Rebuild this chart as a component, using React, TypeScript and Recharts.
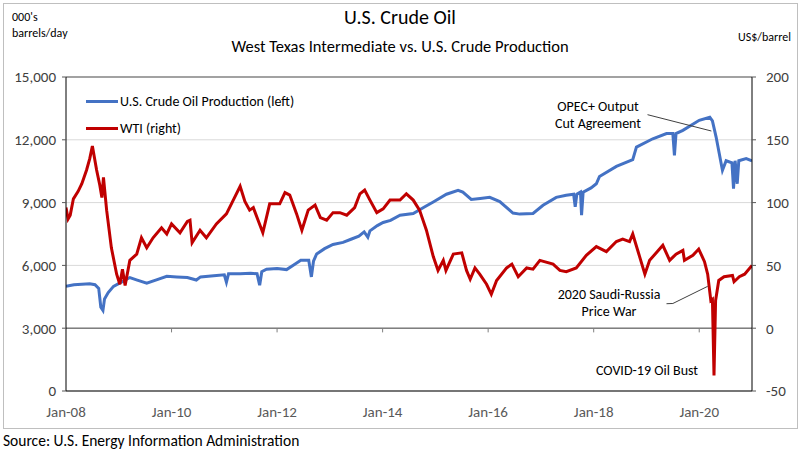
import React from 'react';
import {
  LineChart,
  Line,
  XAxis,
  YAxis,
  CartesianGrid,
  ReferenceLine,
} from 'recharts';

const FONT = "Carlito, Calibri, 'Liberation Sans Narrow', Roboto, sans-serif";

// x = fractional year, left axis = 000's barrels/day
const prodDates = [
  2008.0, 2008.15, 2008.3, 2008.45, 2008.55, 2008.62, 2008.66, 2008.7, 2008.73, 2008.8, 2008.9,
  2009.05, 2009.21, 2009.35, 2009.53, 2009.7, 2009.91, 2010.1, 2010.3, 2010.47, 2010.55, 2010.8,
  2011.0, 2011.04, 2011.08, 2011.3, 2011.5, 2011.62, 2011.67, 2011.71, 2011.8, 2012.0, 2012.18,
  2012.3, 2012.45, 2012.6, 2012.65, 2012.69, 2012.75, 2012.9, 2013.06, 2013.25, 2013.4, 2013.55,
  2013.65, 2013.72, 2013.76, 2013.9, 2014.01, 2014.15, 2014.33, 2014.58, 2014.8, 2014.96, 2015.21,
  2015.43, 2015.52, 2015.68, 2015.85, 2016.03, 2016.22, 2016.47, 2016.6, 2016.85, 2017.04, 2017.29,
  2017.48, 2017.62, 2017.65, 2017.68, 2017.75, 2017.77, 2017.8, 2017.95, 2018.05, 2018.11, 2018.43,
  2018.74, 2018.81, 2019.12, 2019.38, 2019.5, 2019.53, 2019.56, 2019.69, 2020.0, 2020.2, 2020.25,
  2020.32, 2020.44, 2020.51, 2020.62, 2020.65, 2020.68, 2020.72, 2020.75, 2020.89, 2021.0,
];
const prodValues = [
  5000, 5080, 5100, 5120, 5080, 4900, 4000, 3850, 4400, 4700, 5000,
  5200, 5420, 5300, 5150, 5300, 5480, 5450, 5420, 5300, 5450, 5500,
  5550, 5200, 5600, 5600, 5620, 5600, 5050, 5700, 5820, 5850, 5800,
  6000, 6250, 6250, 5450, 6200, 6550, 6800, 7000, 7100, 7250, 7400,
  7600, 7350, 7650, 7900, 8050, 8150, 8400, 8480, 8800, 9030, 9400,
  9590, 9500, 9150, 9200, 9250, 9050, 8500, 8450, 8480, 8870, 9250,
  9350, 9400, 8800, 9400, 9500, 8400, 9500, 9700, 9900, 10250, 10730,
  11050, 11650, 12050, 12300, 12300, 11260, 12300, 12450, 12930, 13080, 12900,
  12130, 10540, 11000, 10900, 9670, 11000, 9900, 11000, 11100, 10990,
];

// right axis = US$/barrel
const wtiDates = [
  2008.0, 2008.04, 2008.08, 2008.14, 2008.23, 2008.3, 2008.39, 2008.45, 2008.5, 2008.58, 2008.64,
  2008.68, 2008.71, 2008.77, 2008.86, 2008.96, 2009.02, 2009.07, 2009.12, 2009.21, 2009.34, 2009.43,
  2009.53, 2009.65, 2009.81, 2009.91, 2010.0, 2010.16, 2010.3, 2010.35, 2010.39, 2010.54, 2010.66,
  2010.85, 2011.04, 2011.17, 2011.3, 2011.39, 2011.48, 2011.55, 2011.64, 2011.73, 2011.86, 2012.05,
  2012.15, 2012.24, 2012.37, 2012.47, 2012.59, 2012.72, 2012.82, 2012.94, 2013.06, 2013.19, 2013.32,
  2013.47, 2013.57, 2013.66, 2013.76, 2013.89, 2014.01, 2014.14, 2014.33, 2014.45, 2014.58, 2014.7,
  2014.83, 2014.96, 2015.05, 2015.15, 2015.2, 2015.34, 2015.5, 2015.59, 2015.66, 2015.75, 2015.84,
  2015.97, 2016.06, 2016.16, 2016.35, 2016.45, 2016.57, 2016.73, 2016.85, 2016.98, 2017.23, 2017.36,
  2017.48, 2017.67, 2017.86, 2018.05, 2018.24, 2018.43, 2018.55, 2018.68, 2018.74, 2018.87, 2018.97,
  2019.06, 2019.31, 2019.44, 2019.56, 2019.69, 2019.72, 2019.88, 2019.99, 2020.1, 2020.16, 2020.22,
  2020.25, 2020.28, 2020.31, 2020.37, 2020.47, 2020.63, 2020.66, 2020.76, 2020.86, 2021.0,
];
const wtiValues = [
  96, 87, 90, 103, 109, 115, 126, 135, 145, 126, 114,
  104, 120, 94, 64, 43, 35, 47, 34, 54, 59, 72,
  64, 72, 80, 75, 83, 76, 85, 86, 68, 78, 72,
  83, 91, 102, 113, 101, 94, 96, 86, 76, 99, 99,
  108, 106, 91, 78, 94, 98, 88, 86, 92, 92, 90,
  96, 107, 110, 102, 92, 95, 102, 102, 107, 102, 94,
  78, 57, 46, 54, 46, 59, 60, 46, 39, 48, 43,
  35, 27, 38, 48, 51, 41, 48, 47, 54, 51, 46,
  45, 48, 58, 65, 61, 69, 71, 69, 75, 57, 43,
  54, 66, 54, 59, 62, 54, 58, 63, 53, 43, 22,
  23, -37.6, 22, 38, 41, 42, 37, 41, 43, 50,
];

const xTicks = [2008, 2010, 2012, 2014, 2016, 2018, 2020];
const leftTicks = [0, 3000, 6000, 9000, 12000, 15000];
const rightTicks = [-50, 0, 50, 100, 150, 200];

const prodData = prodDates.map((t, i) => ({ t, prod: prodValues[i] }));
const wtiData = wtiDates.map((t, i) => ({ t, wti: wtiValues[i] }));

const BLUE = '#4472C4';
const RED = '#C00000';

const legendItems = [
  { name: 'U.S. Crude Oil Production (left)', color: BLUE },
  { name: 'WTI (right)', color: RED },
];

const abs = (left: number, top: number, extra: React.CSSProperties = {}): React.CSSProperties => ({
  position: 'absolute',
  left,
  top,
  fontFamily: FONT,
  color: '#000',
  whiteSpace: 'nowrap',
  ...extra,
});

function LegendBox() {
  return (
    <div style={abs(86, 88, { fontSize: 14 })}>
      {legendItems.map((item) => (
        <div key={item.name} style={{ display: 'flex', alignItems: 'center', height: 27 }}>
          <span style={{ display: 'inline-block', width: 32, height: 3, background: item.color, marginRight: 2 }} />
          {item.name}
        </div>
      ))}
    </div>
  );
}

export default function App() {
  const tickStyle = { fontSize: 15, fill: '#404040', fontFamily: FONT };
  return (
    <div style={{ position: 'absolute', left: 0, top: 0, width: 800, height: 450, background: '#fff' }}>
      <div style={{ position: 'absolute', left: 3, top: 3, width: 793, height: 424, border: '1px solid #bfbfbf' }} />
      <LineChart
        width={800}
        height={450}
        data={prodData}
        margin={{ top: 77, right: 0, bottom: 39, left: 0 }}
        style={{ position: 'absolute', left: 0, top: 0 }}
      >
        <CartesianGrid vertical={false} stroke="#d9d9d9" yAxisId="left" />
        <XAxis
          dataKey="t"
          type="number"
          domain={[2008, 2021]}
          ticks={xTicks}
          allowDataOverflow
          tickFormatter={(v) => `Jan-${String(v).slice(2)}`}
          axisLine={false}
          tickLine={false}
          tick={{ ...tickStyle, fill: '#595959' }}
          tickMargin={9}
          height={20}
        />
        <YAxis
          yAxisId="left"
          domain={[0, 15000]}
          ticks={leftTicks}
          tickFormatter={(v) => v.toLocaleString('en-US')}
          width={66}
          axisLine={{ stroke: '#000' }}
          tickLine={{ stroke: '#595959' }}
          tickSize={4}
          tickMargin={6}
          tick={tickStyle}
        />
        <YAxis
          yAxisId="right"
          orientation="right"
          domain={[-50, 200]}
          ticks={rightTicks}
          width={48}
          axisLine={{ stroke: '#000' }}
          tickLine={{ stroke: '#595959' }}
          tickSize={4}
          tickMargin={10}
          tick={tickStyle}
        />
        <ReferenceLine yAxisId="left" y={15000} stroke="#595959" />
        <ReferenceLine yAxisId="left" y={3000} stroke="#7f7f7f" strokeWidth={1.5} />
        <ReferenceLine yAxisId="left" y={0} stroke="#000" />
        {xTicks.slice(1).map((yr) => (
          <ReferenceLine
            key={yr}
            yAxisId="left"
            segment={[{ x: yr, y: 3000 }, { x: yr, y: 2800 }]}
            stroke="#7f7f7f"
          />
        ))}
        <Line
          yAxisId="left"
          data={prodData}
          dataKey="prod"
          stroke={BLUE}
          strokeWidth={3}
          dot={false}
          isAnimationActive={false}
        />
        <Line
          yAxisId="right"
          data={wtiData}
          dataKey="wti"
          stroke={RED}
          strokeWidth={3}
          dot={false}
          isAnimationActive={false}
        />
        {/* annotation leader lines */}
        <ReferenceLine
          yAxisId="left"
          segment={[{ x: 2019.02, y: 13200 }, { x: 2020.23, y: 12420 }]}
          stroke="#404040"
        />
        <ReferenceLine
          yAxisId="left"
          segment={[{ x: 2019.38, y: 4170 }, { x: 2019.5, y: 4180 }]}
          stroke="#404040"
        />
        <ReferenceLine
          yAxisId="left"
          segment={[{ x: 2019.5, y: 4180 }, { x: 2020.16, y: 5000 }]}
          stroke="#404040"
        />
      </LineChart>

      <LegendBox />

      <div style={abs(0, 5, { width: 800, textAlign: 'center', fontSize: 20 })}>U.S. Crude Oil</div>
      <div style={abs(0, 36, { width: 800, textAlign: 'center', fontSize: 16.5 })}>
        West Texas Intermediate vs. U.S. Crude Production
      </div>
      <div style={abs(12, 9, { fontSize: 12, lineHeight: '16px' })}>
        000's
        <br />
        barrels/day
      </div>
      <div style={abs(738, 30, { fontSize: 12 })}>US$/barrel</div>

      <div style={abs(548, 98, { width: 100, textAlign: 'center', fontSize: 14, lineHeight: '17px' })}>
        OPEC+ Output
        <br />
        Cut Agreement
      </div>
      <div style={abs(549, 286, { width: 120, textAlign: 'center', fontSize: 14, lineHeight: '17px' })}>
        2020 Saudi-Russia
        <br />
        Price War
      </div>
      <div style={abs(587, 362, { width: 120, textAlign: 'center', fontSize: 14 })}>COVID-19 Oil Bust</div>

      <div style={abs(3, 431, { fontSize: 15.5 })}>Source: U.S. Energy Information Administration</div>
    </div>
  );
}
